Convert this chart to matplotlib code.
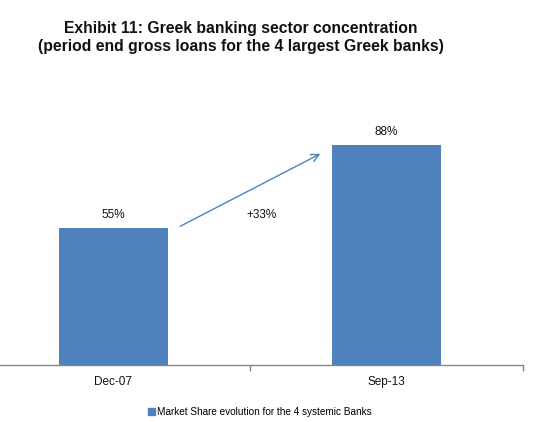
import matplotlib
matplotlib.use('Agg')
import matplotlib.pyplot as plt
from matplotlib.patches import Patch

plt.rcParams['font.family'] = ['Liberation Sans', 'DejaVu Sans']

# data
periods = ['Dec-07', 'Sep-13']
market_share = [55, 88]
series_name = 'Market Share evolution for the 4 systemic Banks'
title = ('Exhibit 11: Greek banking sector concentration\n'
         '(period end gross loans for the 4 largest Greek banks)')

bar_color = '#4F81BD'
axis_color = '#868686'

fig = plt.figure(figsize=(5.38, 4.22), dpi=100)
ax = fig.add_axes([-0.043, 0.135, 1.015, 0.5925])

x = range(len(periods))
bars = ax.bar(x, market_share, width=0.4, color=bar_color, zorder=2)

for rect, val in zip(bars, market_share):
    ax.text(rect.get_x() + rect.get_width() / 2, val + 2.8, f'{val}%',
            ha='center', va='bottom', fontsize=8.5, color='#111111')

# growth arrow between the two bars
change = market_share[1] - market_share[0]
ax.annotate('', xy=(0.767, market_share[1] - 3), xytext=(0.236, market_share[0]),
            arrowprops=dict(arrowstyle='->', color=bar_color, lw=1.0,
                            mutation_scale=14))
ax.text(0.544, (market_share[0] + market_share[1]) / 2 - 11.5, f'+{change}%',
        ha='center', va='center', fontsize=8.5, color='#111111')

ax.set_xlim(-0.5, len(periods) - 0.5)
ax.set_ylim(0, 100)

for side in ('left', 'top', 'right'):
    ax.spines[side].set_visible(False)
ax.spines['bottom'].set_color(axis_color)
ax.spines['bottom'].set_linewidth(1.0)
ax.set_yticks([])

# category boundary ticks, labels at centers
ax.set_xticks([i - 0.5 for i in range(len(periods) + 1)])
ax.set_xticklabels([])
ax.tick_params(axis='x', which='major', direction='out', length=4,
               color=axis_color, width=1)
ax.set_xticks(list(x), minor=True)
ax.set_xticklabels(periods, minor=True, fontsize=8.5, color='#111111')
ax.tick_params(axis='x', which='minor', length=0, pad=8)

fig.text(0.448, 1 - 21 / 422, title, ha='center', va='top',
         fontsize=11.3, fontweight='bold', linespacing=1.22, color='#111111')

fig.legend(handles=[Patch(color=bar_color, label=series_name)],
           loc='center', bbox_to_anchor=(0.483, 1 - 412 / 422), frameon=False,
           fontsize=7.2, handlelength=0.7, handleheight=0.7, handletextpad=0.2,
           borderpad=0)

fig.savefig('out.png', dpi=100)
